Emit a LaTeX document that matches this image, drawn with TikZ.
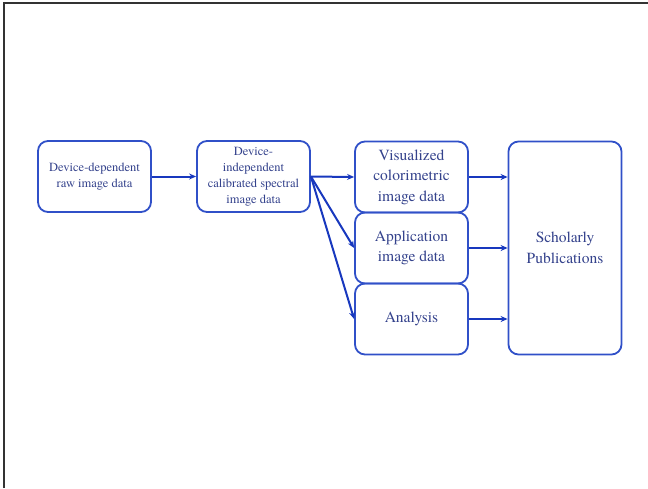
\documentclass[tikz,border=0pt]{standalone}
\usepackage{fontspec}
\setmainfont{TeX Gyre Termes}
\usepackage{xcolor}
\usetikzlibrary{arrows.meta}

\definecolor{boxblue}{RGB}{48,80,200}
\definecolor{arrowblue}{RGB}{24,56,190}
\definecolor{textblue}{RGB}{52,66,140}

\tikzset{
    databox/.style={draw=boxblue, line width=1.8pt, rounded corners=10pt,
        minimum width=113pt, minimum height=71pt, text=textblue, align=center},
    smalltext/.style={font=\fontsize{12.5}{16}\selectfont},
    bigtext/.style={font=\fontsize{15.5}{20.5}\selectfont},
    flow/.style={draw=arrowblue, line width=2pt, -{Stealth[length=7pt,width=6pt]}}
}

\begin{document}
\begin{tikzpicture}[x=1pt,y=-1pt]
    \useasboundingbox (0,0) rectangle (648,488);

    % frame
    \draw[line width=2pt, black!80] (4,488) -- (4,3) -- (648,3);

    % left boxes
    \node[databox, smalltext] (raw) at (94.5,176.5) {Device-dependent\\raw image data};
    \node[databox, smalltext] (calib) at (253.5,176.5) {Device-\\independent\\calibrated spectral\\image data};

    % middle column
    \node[databox, bigtext] (visual) at (411.5,177) {Visualized\\colorimetric\\image data};
    \node[databox, bigtext] (appl) at (411.5,248) {Application\\image data};
    \node[databox, bigtext] (anal) at (411.5,319) {Analysis};

    % right box
    \node[databox, bigtext, minimum height=213pt] (schol) at (565,248) {Scholarly\\Publications};

    % arrows
    \draw[flow] (raw.east) -- (calib.west);
    \draw[flow] (calib.east) -- (visual.west);
    \draw[flow] (calib.east) -- (appl.west);
    \draw[flow] (calib.east) -- (anal.west);
    \foreach \n in {visual,appl,anal} {
        \draw[flow] (\n.east) -- (\n.east -| schol.west);
    }
\end{tikzpicture}
\end{document}
